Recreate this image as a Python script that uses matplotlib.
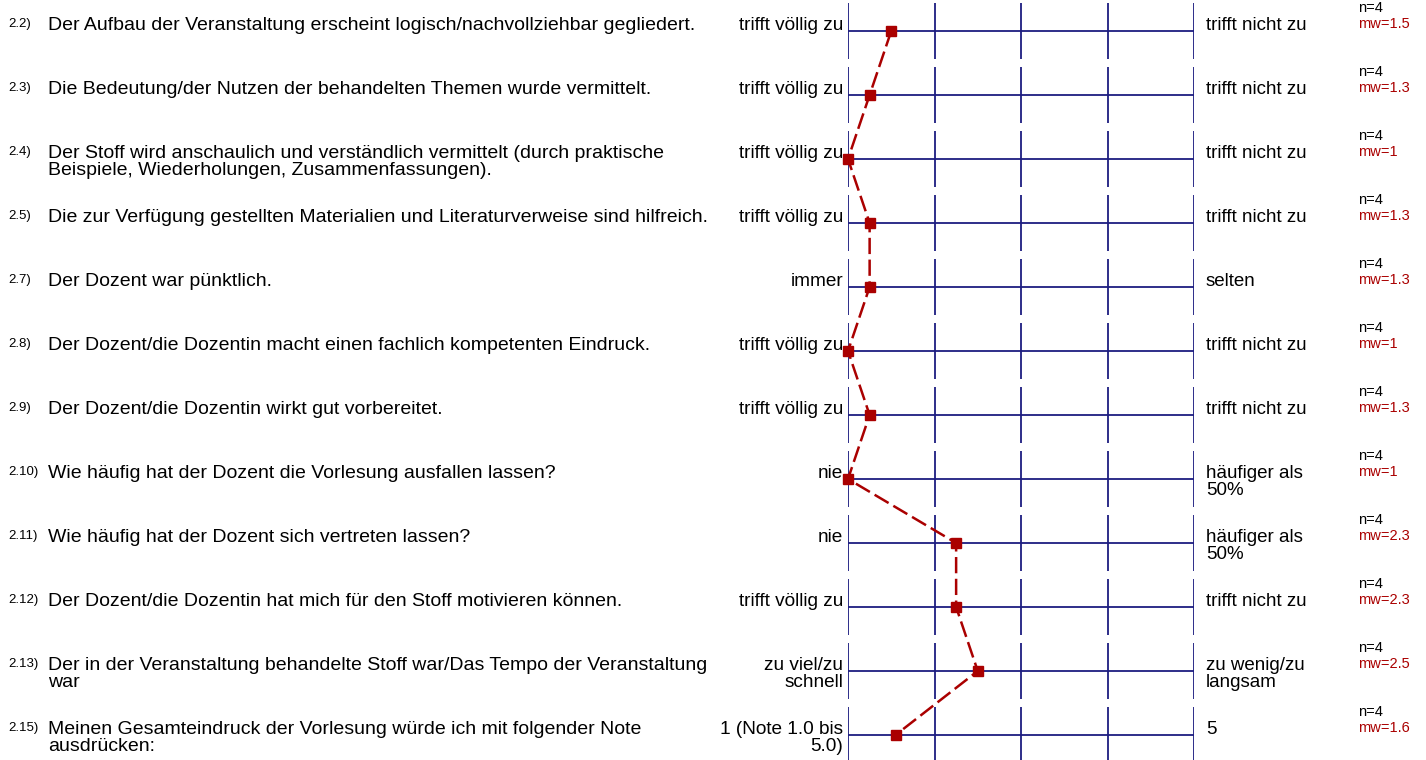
import numpy as np
import matplotlib
matplotlib.use("Agg")
import matplotlib.pyplot as plt
import matplotlib.transforms as mtransforms

plt.rcParams['font.family'] = ['Liberation Sans', 'DejaVu Sans']

# data
nums = ['2.2)', '2.3)', '2.4)', '2.5)', '2.7)', '2.8)', '2.9)', '2.10)',
        '2.11)', '2.12)', '2.13)', '2.15)']
questions = [
    'Der Aufbau der Veranstaltung erscheint logisch/nachvollziehbar gegliedert.',
    'Die Bedeutung/der Nutzen der behandelten Themen wurde vermittelt.',
    'Der Stoff wird anschaulich und verständlich vermittelt (durch praktische\nBeispiele, Wiederholungen, Zusammenfassungen).',
    'Die zur Verfügung gestellten Materialien und Literaturverweise sind hilfreich.',
    'Der Dozent war pünktlich.',
    'Der Dozent/die Dozentin macht einen fachlich kompetenten Eindruck.',
    'Der Dozent/die Dozentin wirkt gut vorbereitet.',
    'Wie häufig hat der Dozent die Vorlesung ausfallen lassen?',
    'Wie häufig hat der Dozent sich vertreten lassen?',
    'Der Dozent/die Dozentin hat mich für den Stoff motivieren können.',
    'Der in der Veranstaltung behandelte Stoff war/Das Tempo der Veranstaltung\nwar',
    'Meinen Gesamteindruck der Vorlesung würde ich mit folgender Note\nausdrücken:',
]
left_labels = ['trifft völlig zu', 'trifft völlig zu', 'trifft völlig zu',
               'trifft völlig zu', 'immer', 'trifft völlig zu', 'trifft völlig zu',
               'nie', 'nie', 'trifft völlig zu', 'zu viel/zu\nschnell',
               '1 (Note 1.0 bis\n5.0)']
right_labels = ['trifft nicht zu', 'trifft nicht zu', 'trifft nicht zu',
                'trifft nicht zu', 'selten', 'trifft nicht zu', 'trifft nicht zu',
                'häufiger als\n50%', 'häufiger als\n50%', 'trifft nicht zu',
                'zu wenig/zu\nlangsam', '5']
n_values = [4, 4, 4, 4, 4, 4, 4, 4, 4, 4, 4, 4]
means = [1.5, 1.25, 1.0, 1.25, 1.25, 1.0, 1.25, 1.0, 2.25, 2.25, 2.5, 1.55]
mw_labels = ['1.5', '1.3', '1', '1.3', '1.3', '1', '1.3', '1', '2.3', '2.3',
             '2.5', '1.6']
scale = [1, 2, 3, 4, 5]

W, H = 1426, 760
navy = '#1c1c80'
red = '#aa0000'

fig = plt.figure(figsize=(W / 100, H / 100), dpi=100)
ax = fig.add_axes([848 / W, 0, (1194 - 848) / W, 1])
rows = np.arange(len(nums))
# row i sits at pixel 31 + 64 i (from top)
ax.set_ylim((H - 31) / 64, -31 / 64)
ax.set_xlim(scale[0], scale[-1])
ax.axis('off')

for i in rows:
    ax.vlines(scale, i - 0.44, i + 0.43, color=navy, lw=1.3)
    ax.hlines(i, scale[0], scale[-1], color=navy, lw=1.3)

ax.plot(means, rows, color=red, lw=1.8, dashes=(6.5, 2.2), marker='s',
        markersize=7.2, markerfacecolor=red, markeredgecolor=red, clip_on=False,
        zorder=5)

tr = mtransforms.blended_transform_factory(fig.transFigure, ax.transData)
px = 1 / 64  # one pixel in row units
line_h = 17.5 * px


def put(x, y, s, ha='left', **kw):
    # one text per line so the first baseline sits where it should
    for k, line in enumerate(s.split('\n')):
        fig.text(x / W, y + k * line_h, line, transform=tr, va='baseline',
                 ha=ha, **kw)


for i in rows:
    put(8, i - 4 * px, nums[i], fontsize=9.5)
    put(48, i - 1.5 * px, questions[i], fontsize=14)
    put(843, i - 1.5 * px, left_labels[i], ha='right', fontsize=13.7)
    put(1206, i - 1.5 * px, right_labels[i], fontsize=13.5)
    put(1358, i - 19 * px, 'n=%d' % n_values[i], fontsize=10.5)
    put(1358, i - 3 * px, 'mw=' + mw_labels[i], fontsize=10.5, color=red)

fig.savefig('out.png', dpi=100)
